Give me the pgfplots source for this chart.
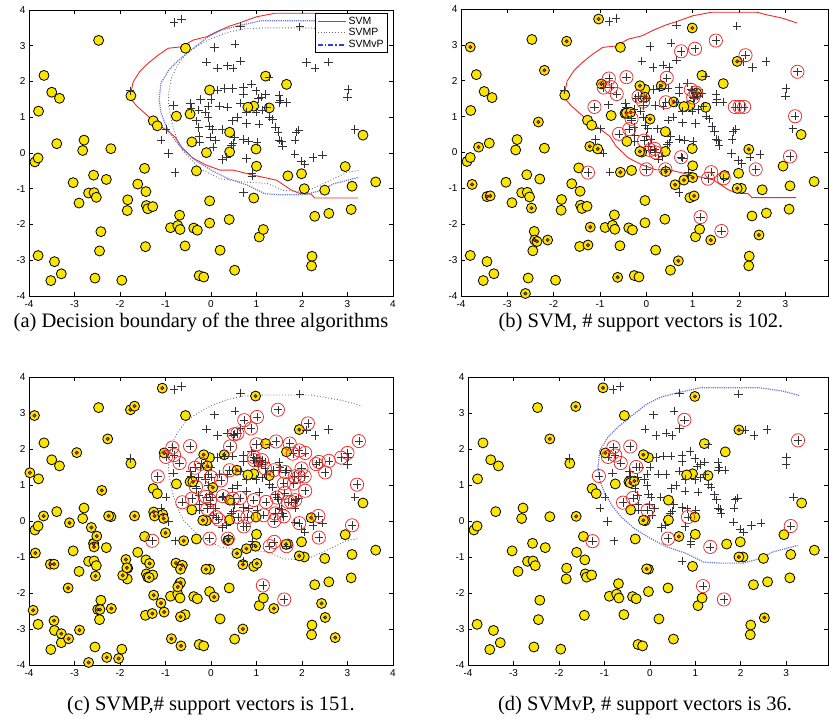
\documentclass[border=0pt]{standalone}
\usepackage{fontspec}
\setmainfont{Liberation Serif}
\newfontfamily\sansf{Liberation Sans}
\usepackage{pgfplots}
\pgfplotsset{compat=1.18}
\usepackage{pgfplotstable}

\definecolor{myyellow}{RGB}{250,228,0}
\definecolor{myred}{RGB}{240,40,40}
\definecolor{mygray}{RGB}{110,110,120}
\definecolor{myblue}{RGB}{100,120,215}
\definecolor{legblue}{RGB}{40,70,200}

\pgfplotstableread{
x y
-2.47 3.15
-3.67 2.17
-3.5 1.7
-3.33 1.53
-3.79 1.17
-3.39 0.26
-2.79 0.36
-2.82 0.07
-2.2 0.12
-3.87 -0.25
-3.8 -0.14
-2.58 -0.62
-2.3 -0.74
-3.03 -0.83
-2.69 -1.12
-2.57 -1.11
-2.52 -1.24
-2.9 -1.4
-1.46 -0.43
-1.61 -0.87
-1.43 -1.08
-1.42 -1.47
-1.39 -1.56
-1.28 -1.5
-1.83 -1.31
-1.84 -1.61
-2.42 -2.2
-2.45 -2.74
-1.44 -2.62
-0.89 -2.09
-0.69 -1.74
-0.73 -2.03
-0.68 -2.14
-0.38 -2.1
-0.3 -2.16
-0.57 -2.6
-0.03 -1.96
-0.03 -1.34
0.4 -1.86
0.2 -2.72
-3.8 -2.87
-3.44 -3.04
-3.29 -3.38
-3.52 -3.57
-2.55 -3.5
-1.96 -3.56
-0.26 -3.43
-0.16 -3.47
0.52 -3.28
1.06 -2.35
1.15 -2.14
0.94 -1.26
1.0 -0.37
1.69 -0.64
1.99 -0.58
2.05 -1.0
2.5 -1.04
2.28 -1.77
2.59 -1.69
3.08 -1.58
3.1 -0.93
2.95 -0.38
3.62 -0.81
3.34 0.5
2.22 -2.89
2.21 -3.16
1.66 1.92
1.2 2.15
1.28 1.26
0.94 1.31
0.81 1.28
0.99 0.11
0.41 0.58
0.41 0.03
-0.1 0.01
-0.42 0.31
-0.32 -0.5
-0.46 1.09
-0.76 1.03
-0.03 1.76
-0.56 2.93
-1.27 0.9
-1.18 0.76
-1.76 1.6
}\basecirc

\pgfplotstableread{
x y
-0.81 3.65
-0.65 3.74
0.65 3.55
1.95 3.53
0.08 2.95
0.53 3.05
-0.1 2.55
0.14 2.37
0.36 2.44
0.49 2.37
0.65 2.57
2.1 2.53
2.29 2.37
2.58 2.54
1.28 2.13
3.01 1.78
3.0 1.57
3.16 0.66
-1.78 1.74
-0.82 1.33
-0.45 1.38
-0.23 1.5
0.0 1.5
0.14 1.76
0.29 1.8
0.47 1.8
0.71 1.83
0.89 1.93
0.71 1.65
0.99 1.74
1.11 1.57
1.2 1.64
1.04 1.52
1.5 1.62
1.52 1.48
1.66 1.41
1.5 1.41
-0.06 1.31
-0.12 1.15
-0.27 1.2
-0.44 1.25
-0.06 0.99
0.19 1.31
0.36 1.29
0.65 1.39
0.78 1.15
0.99 1.15
1.12 1.2
1.22 1.29
0.58 0.99
0.47 0.9
0.78 0.83
1.06 0.81
1.29 1.01
1.35 0.94
1.42 0.73
1.47 0.59
1.5 0.36
1.57 0.2
1.85 0.36
1.87 0.59
1.93 0.64
-0.32 0.9
-0.27 0.71
-0.03 0.75
0.03 0.66
0.24 0.66
-0.26 0.47
-0.01 0.45
0.1 0.36
0.52 0.45
0.71 0.38
0.82 0.34
1.01 0.31
0.49 0.27
0.45 0.22
0.05 0.17
-0.25 0.31
-1.1 0.36
-0.99 0.66
-0.93 -0.01
-0.79 -0.55
0.25 -0.18
0.34 -0.11
0.78 -0.15
0.9 -0.56
0.9 -0.64
0.71 -1.11
1.84 -0.03
1.99 -0.22
2.06 -0.31
2.24 -0.13
2.45 -0.06
1.55 0.33
}\baseplus

\pgfplotstableread{
x y
3.25 3.61
2.92 3.75
2.59 3.84
2.38 3.91
1.41 3.91
1.0 3.81
0.63 3.64
0.41 3.55
0.12 3.39
-0.1 3.25
-0.39 3.16
-0.65 2.97
-0.94 2.93
-1.16 2.74
-1.38 2.51
-1.56 2.29
-1.71 1.99
-1.76 1.68
-1.74 1.48
-1.63 1.31
-1.41 1.06
-1.2 0.83
-0.98 0.64
-0.79 0.45
-0.65 0.17
-0.39 -0.15
-0.1 -0.34
0.2 -0.48
0.49 -0.48
0.93 -0.62
1.44 -0.76
1.77 -1.04
1.95 -1.13
2.2 -1.15
2.28 -1.26
3.23 -1.26
}\svmline

\pgfplotstableread{
x y
3.28 3.21
2.88 3.35
2.19 3.5
1.67 3.5
1.16 3.5
0.72 3.47
0.35 3.37
0.1 3.25
-0.16 3.1
-0.53 2.8
-0.75 2.43
-0.88 2.06
-0.93 1.69
-0.93 1.32
-0.86 0.85
-0.75 0.39
-0.6 0.02
-0.24 -0.44
0.2 -0.72
0.72 -0.81
1.23 -0.85
1.6 -1.05
2.0 -1.07
2.22 -1.0
2.55 -0.81
2.99 -0.54
3.25 -0.49
}\svmpline

\pgfplotstableread{
x y
3.28 3.49
2.92 3.61
2.41 3.7
1.11 3.7
0.67 3.58
0.24 3.44
-0.05 3.26
-0.34 2.98
-0.7 2.61
-0.92 2.33
-1.1 1.96
-1.14 1.5
-1.1 1.13
-0.99 0.76
-0.81 0.39
-0.63 0.11
-0.34 -0.21
0.02 -0.49
0.38 -0.72
0.82 -0.91
1.18 -1.14
1.54 -1.17
2.05 -1.17
2.41 -1.05
2.7 -0.86
3.25 -0.68
}\svmvpline

\pgfplotstableread{
x y
-3.8 2.94
-1.03 3.72
-1.72 3.1
-2.2 2.29
-2.33 0.85
-3.62 0.15
-3.76 -0.89
-3.44 -1.23
-3.37 -1.21
-2.48 -1.55
-2.41 -2.44
-2.36 -2.48
-2.13 -2.44
-1.21 -2.08
-1.26 -2.58
-2.61 -3.93
-0.62 -3.48
0.69 -3.02
1.39 -2.44
2.43 -2.3
0.99 3.47
1.96 2.54
-0.97 1.91
-0.14 1.86
-0.03 1.54
0.32 1.86
0.59 1.41
0.08 0.93
-0.43 1.1
-0.34 1.12
-1.22 0.17
-1.05 0.1
-0.14 0.03
0.42 -0.53
-0.56 -0.55
0.62 -0.9
0.81 -0.77
1.0 -0.7
1.03 -1.21
1.96 -1.0
2.21 0.09
1.08 1.66
}\svcB

\pgfplotstableread{
x y
1.5 3.12
1.05 2.89
0.75 2.82
2.14 2.71
3.26 2.25
3.21 1.01
3.1 -0.11
2.36 -0.47
-0.81 2.06
-0.76 1.82
-0.92 1.81
-0.43 2.1
-0.64 1.63
-1.12 1.27
-0.17 1.56
-0.07 1.42
0.44 2.08
0.42 1.4
0.96 1.75
1.01 1.53
1.07 1.67
1.91 1.27
2.01 1.27
2.11 1.27
-0.32 0.94
-0.37 0.65
-0.59 0.52
-0.05 0.33
0.08 0.07
0.18 0.1
0.2 0.0
0.75 -0.13
0.0 -0.47
0.41 -0.47
-1.26 -0.56
1.4 -0.55
1.33 -0.73
1.67 -0.72
1.17 -1.8
1.62 -2.19
}\svpB

\pgfplotstableread{
x y
-1.07 3.69
0.98 3.47
-3.88 2.93
-1.77 3.09
-1.68 3.19
-2.27 2.28
-2.95 1.9
-3.98 1.34
-2.4 0.85
-3.68 0.14
-3.11 -0.05
-2.25 0.14
-1.68 0.14
-1.26 0.25
-1.24 0.14
-1.06 0.18
-1.04 0.07
-1.0 -0.33
-3.86 -0.89
-3.53 -1.2
-3.45 -1.2
-2.63 -0.18
-2.58 -0.63
-2.57 -0.72
-2.51 -0.42
-2.54 -1.53
-1.87 -1.07
-1.94 -1.51
-1.85 -1.3
-1.35 -1.18
-1.36 -1.57
-3.14 -1.86
-3.91 -2.48
-3.45 -2.77
-2.89 -3.03
-3.29 -3.13
-3.13 -3.27
-2.69 -3.93
-2.29 -3.79
-2.03 -3.82
-2.49 -2.46
-2.44 -2.46
-2.19 -2.43
-1.26 -2.06
-1.29 -2.57
-1.1 -2.28
-1.03 -2.53
-0.87 -3.27
-0.66 -3.47
-0.67 -2.66
-0.67 -1.71
-0.73 -1.83
-0.77 -1.17
-0.63 -1.23
-0.67 -1.34
-0.11 -1.34
0.07 -2.11
0.7 -3.0
0.37 -0.54
0.57 -0.9
0.7 -1.21
0.78 -0.77
1.01 -1.18
1.38 -2.43
2.43 -2.29
2.51 -2.68
2.73 -3.24
1.94 -0.97
1.65 -0.65
2.2 0.09
1.94 2.54
-1.03 1.89
-0.16 1.84
-0.08 1.53
0.29 1.84
1.04 1.64
0.57 1.41
-0.4 1.09
0.04 0.93
-0.18 0.02
-0.6 -0.55
0.39 -0.53
0.98 -0.7
}\svcC

\pgfplotstableread{
x y
1.47 3.09
1.01 2.89
0.73 2.8
2.13 2.71
0.58 2.43
0.51 2.41
0.88 2.57
3.25 2.22
-0.85 2.04
-0.99 1.78
-0.81 1.83
-0.69 1.61
-0.46 2.08
0.42 2.07
1.0 2.13
1.43 2.21
1.73 2.15
1.94 1.96
1.8 1.87
2.07 1.89
2.59 1.67
2.37 1.64
2.31 1.58
2.51 1.35
2.86 1.76
3.0 1.89
-1.17 1.24
-0.35 1.48
-0.22 1.59
0.0 1.22
0.22 1.13
0.41 1.41
0.94 1.78
0.95 1.69
1.12 1.69
1.19 1.46
1.38 1.41
1.63 1.36
1.99 1.46
1.84 1.24
1.93 1.24
2.06 1.24
1.6 1.04
1.82 1.04
2.07 0.84
3.21 1.01
-0.63 0.52
-0.42 0.62
-0.11 0.67
-0.02 0.58
0.26 0.69
0.48 0.62
0.64 0.64
0.94 0.58
1.21 0.53
1.45 0.65
1.62 0.78
1.69 0.53
1.76 0.53
1.85 0.58
-0.08 0.34
0.11 0.11
0.17 0.04
0.6 0.11
0.8 0.11
1.16 0.16
1.41 0.21
1.6 0.13
2.36 0.14
0.72 -0.15
1.39 0.0
3.1 -0.12
-0.03 -0.49
-1.29 -0.55
0.37 -0.49
1.29 -0.7
1.39 -0.58
1.66 -0.7
2.37 -0.46
1.14 -1.79
1.61 -2.18
-0.33 0.95
1.94 -0.06
}\svpC

\pgfplotstableread{
x y
-1.03 3.7
0.99 3.46
-1.63 3.18
-2.2 2.28
1.96 2.53
-0.98 1.89
-0.14 1.84
-0.43 1.06
-0.34 1.11
-1.62 0.13
-0.14 0.02
0.64 -0.43
1.96 -1.0
-0.07 -1.33
2.52 -2.69
}\svcD

\pgfplotstableread{
x y
0.76 2.81
3.26 2.24
-0.8 2.05
-0.43 2.07
-0.76 1.82
-0.92 1.78
-0.64 1.61
-0.3 1.5
-1.12 1.25
-0.37 0.64
-0.59 0.51
-0.05 0.3
0.84 0.11
0.4 -0.49
1.33 -0.72
3.1 -0.14
-1.26 -0.56
1.17 -1.81
1.63 -2.18
}\svpD

\pgfplotsset{
  panel/.style={scale only axis, anchor=south west,
    xmin=-4, ymin=-4, ymax=4, ytick={-4,...,4},
    tick align=inside, major tick length=4pt,
    tick style={black, line width=0.5pt},
    axis line style={black, line width=0.8pt},
    ticklabel style={font=\sansf\fontsize{10}{10}\selectfont},
    /pgf/number format/assume math mode=true,
    xticklabel style={yshift=-1pt},
  },
  circ/.style={only marks, mark=*, mark size=5pt, mark options={fill=myyellow, draw=black, line width=0.8pt}},
  rdot/.style={only marks, mark=*, mark size=1.7pt, mark options={fill=myred, draw=none}},
  pls/.style={only marks, mark=+, mark size=4.2pt, mark options={draw=black!80, line width=0.65pt}},
  ring/.style={only marks, mark=o, mark size=6.6pt, mark options={draw=myred, line width=0.75pt}},
  svmst/.style={no marks, myred, line width=0.9pt},
  svmpst/.style={no marks, mygray, line width=0.9pt, dotted},
  svmvpst/.style={no marks, myblue, line width=1.2pt, densely dotted},
}

\begin{document}
\begin{tikzpicture}
\useasboundingbox (0pt,0pt) rectangle (829pt,722pt);

% (a)
\begin{axis}[panel, at={(29pt,426pt)}, width=364pt, height=286pt, xmax=4, xtick={-4,...,4},
  legend style={at={(rel axis cs:0.985,0.99)}, anchor=north east, font=\sansf\fontsize{10.5}{11}\selectfont,
    draw=black, line width=0.7pt, inner sep=1.5pt, row sep=-1pt, legend cell align=left, fill=white},
  legend image code/.code={\draw[#1] (0pt,0pt) -- (28pt,0pt);}]
\addplot[circ, forget plot] table {\basecirc};
\addplot[pls, forget plot] table {\baseplus};
\addplot[svmst, forget plot] table {\svmline};
\addplot[svmpst, forget plot] table {\svmpline};
\addplot[svmvpst, forget plot] table {\svmvpline};
\addlegendimage{myred, line width=0.9pt}
\addlegendentry{SVM}
\addlegendimage{mygray, line width=0.9pt, dotted}
\addlegendentry{SVMP}
\addlegendimage{legblue, line width=1.8pt, dash pattern=on 5pt off 2pt on 1.5pt off 2pt}
\addlegendentry{SVMvP}
\end{axis}

% (b)
\begin{axis}[panel, at={(461pt,426pt)}, width=367pt, height=287pt, xmax=3.92, xtick={-4,...,3}]
\addplot[circ] table {\basecirc};
\addplot[circ] table {\svcB};
\addplot[rdot] table {\svcB};
\addplot[pls] table {\baseplus};
\addplot[pls] table {\svpB};
\addplot[ring] table {\svpB};
\addplot[svmst] table {\svmline};
\end{axis}

% (c)
\begin{axis}[panel, at={(29pt,57pt)}, width=364pt, height=288pt, xmax=4, xtick={-4,...,4}]
\addplot[circ] table {\basecirc};
\addplot[circ] table {\svcC};
\addplot[rdot] table {\svcC};
\addplot[pls] table {\baseplus};
\addplot[pls] table {\svpC};
\addplot[ring] table {\svpC};
\addplot[svmpst] table {\svmpline};
\end{axis}

% (d)
\begin{axis}[panel, at={(468pt,57pt)}, width=360pt, height=288pt, xmax=3.92, xtick={-4,...,3}]
\addplot[circ] table {\basecirc};
\addplot[circ] table {\svcD};
\addplot[rdot] table {\svcD};
\addplot[pls] table {\baseplus};
\addplot[pls] table {\svpD};
\addplot[ring] table {\svpD};
\addplot[svmvpst] table {\svmvpline};
\end{axis}

\node[font=\fontsize{20.5}{21}\selectfont] at (201pt,399pt) {(a) Decision boundary of the three algorithms};
\node[font=\fontsize{20.5}{21}\selectfont] at (641pt,399pt) {(b) SVM, \# support vectors is 102.};
\node[font=\fontsize{20.5}{21}\selectfont] at (211pt,16pt) {(c) SVMP,\# support vectors is 151.};
\node[font=\fontsize{20.5}{21}\selectfont] at (645pt,16pt) {(d) SVMvP, \# support vectors is 36.};
\end{tikzpicture}
\end{document}
